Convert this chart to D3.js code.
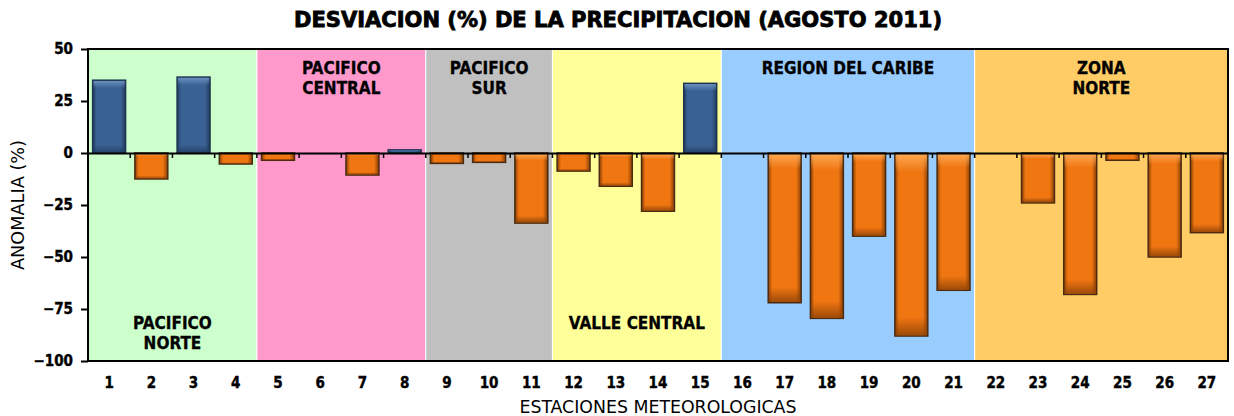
<!DOCTYPE html>
<html>
<head>
<meta charset="utf-8">
<script src="https://cdn.jsdelivr.net/npm/d3@7"></script>
<style>
  body { margin: 0; background: #fff; }
  text { font-family: "DejaVu Sans Condensed", "DejaVu Sans", sans-serif; }
</style>
</head>
<body>
<div id="chart"></div>
<script>
var margin = {top: 49, right: 6, bottom: 55, left: 88};
var width = 1234, height = 416;

// estaciones 1..27
var estaciones = ["1","2","3","4","5","6","7","8","9","10","11","12","13","14","15","16","17","18","19","20","21","22","23","24","25","26","27"];
var anomalia = [35, -12.5, 36.5, -5.3, -3.5, 0, -10.6, 1.5, -5, -4.5, -33.7, -8.7, -16, -28, 33.5, 0, -72, -79.5, -40, -88, -66, 0, -24, -68, -3.5, -50, -38.3];

// regiones
var regionNombres = ["PACIFICO\nNORTE", "PACIFICO\nCENTRAL", "PACIFICO\nSUR", "VALLE CENTRAL", "REGION DEL CARIBE", "ZONA\nNORTE"];
var regionInicio = ["1", "5", "9", "12", "16", "22"];
var regionFin = ["4", "8", "11", "15", "21", "27"];
var regionColores = ["#ccffcc", "#ff99cc", "#c0c0c0", "#ffff99", "#99ccff", "#ffcc66"];
var regionAbajo = [true, false, false, true, false, false];

var yTicks = [50, 25, 0, -25, -50, -75, -100];

var w = width - margin.left - margin.right;
var h = height - margin.top - margin.bottom;

var svg = d3.select("#chart").append("svg")
  .attr("width", width)
  .attr("height", height);

var defs = svg.append("defs");
function gradient(id, light, mid, dark) {
  var g = defs.append("linearGradient").attr("id", id)
    .attr("x1", 0).attr("x2", 1).attr("y1", 0).attr("y2", 0);
  g.append("stop").attr("offset", "0%").attr("stop-color", dark);
  g.append("stop").attr("offset", "12%").attr("stop-color", mid);
  g.append("stop").attr("offset", "85%").attr("stop-color", mid);
  g.append("stop").attr("offset", "100%").attr("stop-color", dark);
  var v = defs.append("linearGradient").attr("id", id + "v")
    .attr("x1", 0).attr("x2", 0).attr("y1", 0).attr("y2", 1);
  v.append("stop").attr("offset", "0%").attr("stop-color", light).attr("stop-opacity", 0.9);
  v.append("stop").attr("offset", "10%").attr("stop-color", light).attr("stop-opacity", 0);
  v.append("stop").attr("offset", "90%").attr("stop-color", dark).attr("stop-opacity", 0);
  v.append("stop").attr("offset", "100%").attr("stop-color", dark).attr("stop-opacity", 0.8);
}
gradient("azul", "#6f95c4", "#3a6193", "#213d60");
gradient("naranja", "#ffae5a", "#f07612", "#8a4005");

var g = svg.append("g")
  .attr("transform", "translate(" + margin.left + "," + margin.top + ")");

var x = d3.scaleBand()
  .domain(estaciones)
  .range([0, w])
  .paddingInner(0.22)
  .paddingOuter(0.11);

var xb = d3.scaleBand().domain(estaciones).range([0, w]);

var y = d3.scaleLinear()
  .domain([-100, 50])
  .range([h, 0]);

// fondos de region
g.selectAll(".region")
  .data(regionNombres)
  .enter().append("rect")
  .attr("x", function(d, i) { return xb(regionInicio[i]); })
  .attr("y", 0)
  .attr("width", function(d, i) { return xb(regionFin[i]) + xb.bandwidth() - xb(regionInicio[i]); })
  .attr("height", h)
  .attr("fill", function(d, i) { return regionColores[i]; })
  .attr("stroke", "#fff")
  .attr("stroke-width", 1);

// etiquetas de region
regionNombres.forEach(function(nombre, i) {
  var cx = (xb(regionInicio[i]) + xb(regionFin[i]) + xb.bandwidth()) / 2;
  var lineas = nombre.split("\n");
  var y0 = regionAbajo[i] ? 280 : 25;
  var t = g.append("text")
    .attr("x", cx)
    .attr("y", y0)
    .attr("text-anchor", "middle")
    .style("font-size", "17px")
    .style("font-weight", "bold")
    .attr("fill", "#000")
    .attr("stroke", "#000")
    .attr("stroke-width", 0.3);
  lineas.forEach(function(l, j) {
    t.append("tspan").attr("x", cx).attr("dy", j === 0 ? 0 : 20).text(l);
  });
});

// barras
var barras = g.selectAll(".bar")
  .data(anomalia)
  .enter().append("g")
  .attr("class", "bar");

barras.append("rect")
  .attr("x", function(d, i) { return x(estaciones[i]); })
  .attr("y", function(d) { return y(Math.max(0, d)); })
  .attr("width", x.bandwidth())
  .attr("height", function(d) { return Math.abs(y(d) - y(0)); })
  .attr("fill", function(d) { return d > 0 ? "url(#azul)" : "url(#naranja)"; })
  .attr("stroke", function(d) { return d > 0 ? "#1d3350" : "#4a2a10"; })
  .attr("stroke-width", 1.5);

barras.append("rect")
  .attr("x", function(d, i) { return x(estaciones[i]) + 0.75; })
  .attr("y", function(d) { return y(Math.max(0, d)) + 0.75; })
  .attr("width", x.bandwidth() - 1.5)
  .attr("height", function(d) { return Math.max(0, Math.abs(y(d) - y(0)) - 1.5); })
  .attr("fill", function(d) { return d > 0 ? "url(#azulv)" : "url(#naranjav)"; });

// eje x en cero
var xAxis = d3.axisBottom(xb).tickSize(0).tickFormat("");
g.append("g")
  .attr("transform", "translate(0," + y(0) + ")")
  .call(xAxis)
  .call(function(s) { s.select(".domain").attr("stroke", "#000").attr("stroke-width", 2); });

g.selectAll(".xtick")
  .data(estaciones.slice(1))
  .enter().append("line")
  .attr("x1", function(d) { return xb(d); })
  .attr("x2", function(d) { return xb(d); })
  .attr("y1", y(0))
  .attr("y2", y(0) + 5)
  .attr("stroke", "#000")
  .attr("stroke-width", 1.5);

// etiquetas x
g.selectAll(".xlabel")
  .data(estaciones)
  .enter().append("text")
  .attr("x", function(d) { return xb(d) + xb.bandwidth() / 2; })
  .attr("y", h + 27)
  .attr("text-anchor", "middle")
  .style("font-size", "15px")
  .style("font-weight", "bold")
  .attr("stroke", "#000")
  .attr("stroke-width", 0.4)
  .text(function(d) { return d; });

// marco
g.append("rect")
  .attr("x", 0).attr("y", 0)
  .attr("width", w).attr("height", h)
  .attr("fill", "none")
  .attr("stroke", "#000")
  .attr("stroke-width", 2);

// eje y
var yAxis = d3.axisLeft(y).tickValues(yTicks).tickSize(7).tickPadding(8);
g.append("g")
  .call(yAxis)
  .call(function(s) {
    s.select(".domain").remove();
    s.selectAll(".tick line").attr("stroke", "#000").attr("stroke-width", 2);
    s.selectAll(".tick text")
      .style("font-size", "15px")
      .style("font-weight", "bold")
      .style("font-family", "'DejaVu Sans Condensed', 'DejaVu Sans', sans-serif")
      .attr("fill", "#000")
      .attr("stroke", "#000")
      .attr("stroke-width", 0.4);
  });

// titulo
svg.append("text")
  .attr("x", 618)
  .attr("y", 27)
  .attr("text-anchor", "middle")
  .attr("textLength", 648)
  .attr("lengthAdjust", "spacingAndGlyphs")
  .style("font-size", "22px")
  .style("font-weight", "bold")
  .attr("stroke", "#000")
  .attr("stroke-width", 0.8)
  .text("DESVIACION (%) DE LA PRECIPITACION (AGOSTO 2011)");

// titulos de ejes
svg.append("text")
  .attr("transform", "rotate(-90)")
  .attr("x", -205)
  .attr("y", 24)
  .attr("text-anchor", "middle")
  .attr("textLength", 130)
  .attr("lengthAdjust", "spacingAndGlyphs")
  .style("font-size", "17px")
  .text("ANOMALIA (%)");

svg.append("text")
  .attr("x", 658)
  .attr("y", 413)
  .attr("text-anchor", "middle")
  .attr("textLength", 277)
  .attr("lengthAdjust", "spacingAndGlyphs")
  .style("font-size", "17px")
  .text("ESTACIONES METEOROLOGICAS");
</script>
</body>
</html>
